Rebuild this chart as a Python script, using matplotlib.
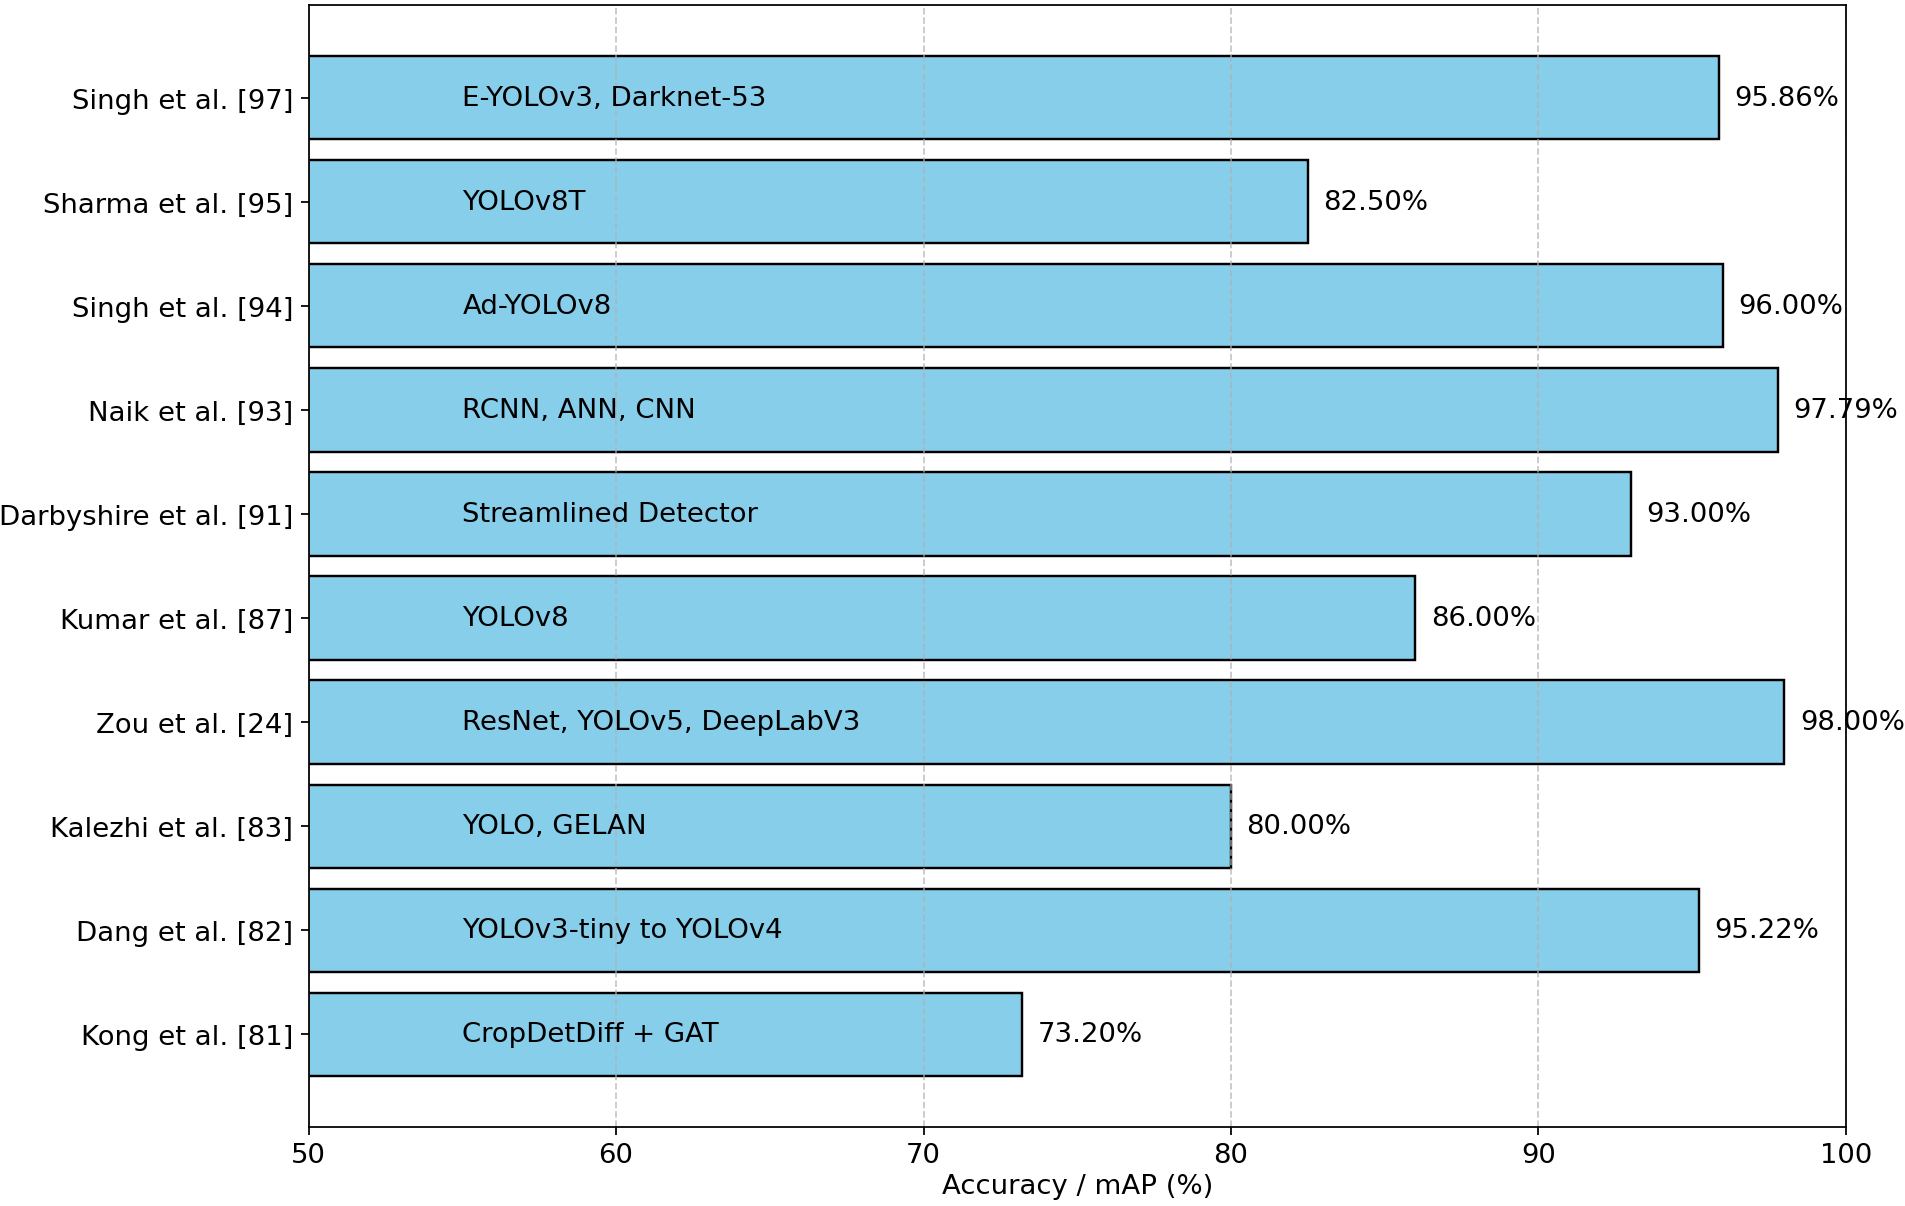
import matplotlib
matplotlib.use("Agg")
import matplotlib.pyplot as plt

studies = ["Singh et al. [97]", "Sharma et al. [95]", "Singh et al. [94]", "Naik et al. [93]",
           "Darbyshire et al. [91]", "Kumar et al. [87]", "Zou et al. [24]", "Kalezhi et al. [83]",
           "Dang et al. [82]", "Kong et al. [81]"]
methods = ["E-YOLOv3, Darknet-53", "YOLOv8T", "Ad-YOLOv8", "RCNN, ANN, CNN",
           "Streamlined Detector", "YOLOv8", "ResNet, YOLOv5, DeepLabV3", "YOLO, GELAN",
           "YOLOv3-tiny to YOLOv4", "CropDetDiff + GAT"]
accuracy = [95.86, 82.50, 96.00, 97.79, 93.00, 86.00, 98.00, 80.00, 95.22, 73.20]

plt.rcParams['font.size'] = 12.5
fig = plt.figure(figsize=(12, 7.603), dpi=158.75)
ax = fig.add_axes([0.162, 0.0655, 0.807, 0.9295])

pos = list(range(len(studies)))
ax.barh(pos, accuracy, height=0.8, color='skyblue', edgecolor='black', linewidth=1.1)
ax.set_yticks(pos)
ax.set_yticklabels(studies)
ax.invert_yaxis()
ax.set_xlim(50, 100)
ax.set_xlabel("Accuracy / mAP (%)", labelpad=2)
ax.grid(axis='x', linestyle='--', alpha=0.7)

for p, v, m in zip(pos, accuracy, methods):
    ax.text(55, p, m, va='center', ha='left')
    ax.text(v + 0.5, p, f"{v:.2f}%", va='center', ha='left')

fig.savefig("out.png", dpi=158.75)
